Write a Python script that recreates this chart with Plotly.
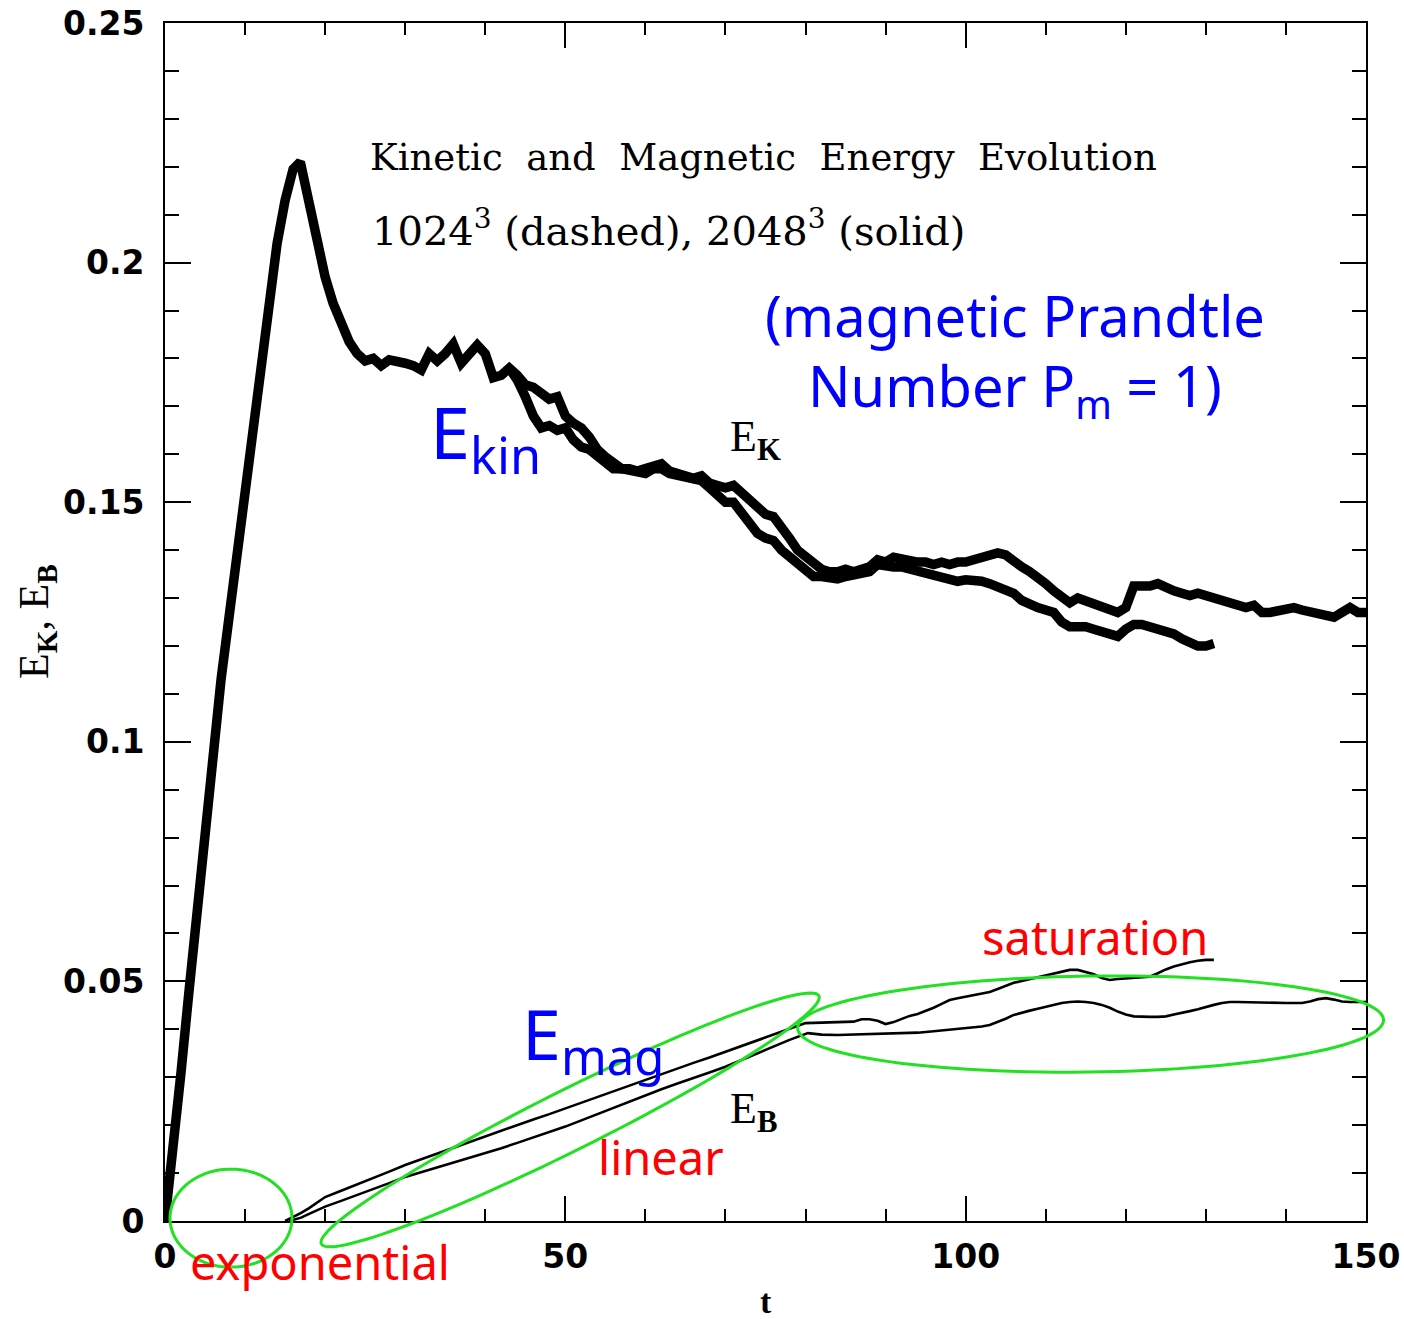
import numpy as np
import plotly.graph_objects as go

# ---------------- data ----------------
# Kinetic energy, run that extends to t=150
kin_long_t = [0, 1, 2, 3, 4, 5, 6, 7, 8, 9, 10, 11, 12, 13, 14, 15, 16, 16.9, 18, 19, 20, 21, 22, 23, 24,
              25, 26, 27, 28, 29, 30, 31, 32, 33, 34, 35, 36, 37, 38, 39, 40, 41, 42, 43,
              44, 45, 46, 47, 48, 49, 50, 51, 52, 53, 54, 55, 56, 57, 58, 59, 60, 61, 62, 63, 64, 65,
              66, 67, 68, 69, 70, 71, 72, 73, 74, 75, 76, 77, 78, 79, 80, 81, 82, 83, 84, 85, 86, 87,
              88, 89, 90, 91, 92, 93, 94, 95, 96, 97, 98, 99, 100, 101, 102, 103, 104, 105, 106, 107,
              108, 109, 110, 111, 112, 113, 114, 115, 116, 117, 118, 119, 120, 120.5, 121, 122, 123,
              124, 125, 126, 127, 128, 129, 130, 131, 132, 133, 134, 135, 136, 137, 138, 139, 140,
              141, 142, 143, 144, 145, 146, 147, 148, 149, 150]
kin_long_E = [0, .014, .031, .048, .065, .082, .099, .113, .126, .139, .152, .166, .180, .193, .204, .213, .2195, .221,
              .2125, .203, .197, .1915, .187, .1835, .181,
              .1795, .180, .1785, .1797, .1795, .179, .1785, .1776, .181, .1795, .181, .183, .179, .181, .1828,
              .181, .176, .1765, .178,
              .1765, .1745, .174, .1728, .1715, .172, .168, .1665, .1655, .1636, .161, .1595, .158, .157,
              .157, .1565, .157, .1575, .158, .1565, .156, .1555,
              .155, .1555, .154, .1535, .153, .1535, .152, .150, .1485, .1475, .147, .145, .1425, .140,
              .1385, .137, .136, .1355, .1355, .136, .1355, .136,
              .1365, .138, .1375, .1385, .138, .1375, .1375, .1375, .137, .1375, .137, .1375, .1375, .138,
              .1385, .139, .1394, .139, .1375, .1365,
              .1355, .1345, .133, .1315, .130, .129, .130, .1295, .1285, .128, .1275, .127, .128, .1305,
              .1325, .1325, .1325,
              .133, .132, .1315, .131, .1305, .131, .1305, .130, .1295, .129, .1285, .128, .1285, .127,
              .127, .1275, .128,
              .128, .1275, .127, .1265, .126, .126, .127, .128, .127, .127]

# Kinetic energy, run that stops near t=131
kin_short_t = [43, 44, 45, 46, 47, 48, 49, 50, 51, 52, 53, 54, 55, 56, 57, 58, 59, 60, 61, 62, 63, 64, 65,
               66, 67, 68, 69, 70, 71, 72, 73, 74, 75, 76, 77, 78, 79, 80, 81, 82, 83, 84, 85, 86, 87,
               88, 89, 90, 91, 92, 93, 94, 95, 96, 97, 98, 99, 100, 101, 102, 103, 104, 105, 106, 107,
               108, 109, 110, 111, 112, 113, 114, 115, 116, 117, 118, 119, 120, 121, 122, 123,
               124, 125, 126, 127, 128, 129, 130, 131]
kin_short_E = [.178, .1755, .172, .168, .1655, .166, .165, .1655, .163, .1615, .161, .1595, .158, .157,
               .157, .1565, .156, .156, .157, .157, .156, .1555, .155,
               .155, .1545, .153, .1515, .150, .150, .148, .1455, .1435, .1425, .142, .140, .1385, .137,
               .1355, .1345, .1345, .134, .134, .1345, .135, .135,
               .1355, .137, .1365, .1365, .1365, .136, .136, .1355, .135, .1345, .134, .1335, .1338,
               .1338, .1335, .133, .1325, .132, .131, .1295,
               .1285, .128, .1275, .127, .125, .124, .124, .124, .1235, .123, .1225, .122, .1235, .1245,
               .1245, .124,
               .124, .1235, .1225, .1215, .1205, .120, .120, .1205]

# Magnetic energy, run that stops near t=131 (upper in the linear phase)
mag_short_t = [15, 16, 17, 18, 19, 20, 22, 24, 26, 28, 30, 32, 34, 36, 38, 40, 42, 44, 46, 48, 50, 52, 54,
               56, 58, 60, 62, 64, 66, 68, 70, 72, 74, 76, 78, 79, 80, 82, 84, 86, 87, 88, 89, 90, 91,
               92, 93, 94, 95, 96, 97, 98, 99, 100, 101, 102, 103, 104, 105, 106, 107, 108, 109, 110,
               111, 112, 113, 114, 115, 116, 117, 118, 119, 120, 121, 122, 123, 124, 125, 126, 127,
               128, 129, 130, 131]
mag_short_E = [0, .0008, .0017, .0027, .0038, .0050, .0063, .0076, .0090, .0103, .0117, .0129, .0141,
               .0153, .0165, .0176, .0188, .0200, .0212, .0223, .0235, .0247, .0259,
               .0271, .0283, .0294, .0306, .0318, .0330, .0341, .0353, .0365, .0377, .0389, .0401, .0407,
               .0413, .0414, .0415, .0416, .0421, .0421, .0418, .0411, .0415,
               .0422, .0428, .0432, .0438, .0445, .0453, .0461, .0465, .0468, .0471, .0475, .0478, .0484,
               .049, .0497, .0501, .0505, .0509, .0512,
               .0516, .052, .0524, .0524, .052, .0515, .0507, .0503, .0505, .0506, .0507, .0508, .051,
               .0517, .0525, .0531, .0536,
               .054, .0543, .0545, .0545]

# Magnetic energy, run that extends to t=150
mag_long_t = [15.5, 17, 18, 19, 20, 22, 24, 26, 28, 30, 32, 34, 36, 38, 40, 42, 44, 46, 48, 50, 52, 54,
              56, 58, 60, 62, 64, 66, 68, 70, 72, 74, 76, 78, 80.3, 82, 84, 86, 88, 90, 92, 94, 96, 98,
              100, 102, 103, 104, 105, 106, 107, 108, 109, 110, 111, 112, 113, 114, 115, 116, 117, 118,
              119, 120, 121, 122, 123, 124, 125, 126, 127, 128, 129, 130, 131, 132, 133, 134, 136, 138,
              140, 142, 143, 144, 145, 146, 147, 148, 150]
mag_long_E = [0, .0007, .0015, .0023, .0030, .0042, .0054, .0066, .0079, .0092, .0102, .0112, .0122,
              .0131, .0141, .0152, .0163, .0174, .0186, .0197, .0210, .0223,
              .0236, .0250, .0263, .0275, .0287, .0298, .0310, .0322, .0336, .0350, .0364, .0378, .0392,
              .0389, .0388, .0389, .0391, .0391, .0392, .0393, .0396, .0399,
              .0402, .0406, .0409, .0415, .0422, .043, .0435, .0439, .0443, .0447, .0451, .0455, .0457,
              .0458, .0457, .0455, .0451, .0445,
              .0437, .0431, .0427, .0426, .0426, .0426, .0427, .0431, .0434, .0438, .0442, .0447, .0451,
              .0455, .0457, .0457, .0456, .0455,
              .0455, .0455, .0458, .0463, .0465, .0462, .0458, .0457, .0457]

x_range = [0, 150]
y_range = [0, 0.25]

# ---------------- layout constants ----------------
W, H = 1404, 1319
ML, MR, MT, MB = 165, 38, 23, 98
PW, PH = W - ML - MR, H - MT - MB

fig = go.Figure()
for tt, ee, w in [(kin_long_t, kin_long_E, 9.5), (kin_short_t, kin_short_E, 9.5),
                  (mag_short_t, mag_short_E, 2.6), (mag_long_t, mag_long_E, 2.6)]:
    fig.add_trace(go.Scatter(x=tt, y=ee, mode="lines", line=dict(color="black", width=w),
                             showlegend=False, hoverinfo="skip"))

axis_common = dict(showgrid=False, zeroline=False, showline=True, linecolor="black", linewidth=2,
                   mirror="allticks", ticks="inside", tickcolor="black", tickwidth=2, automargin=False)
fig.update_xaxes(range=x_range, dtick=50, tick0=0, ticklen=25,
                 minor=dict(dtick=10, ticklen=12, ticks="inside", tickcolor="black", tickwidth=2),
                 tickfont=dict(family="DejaVu Sans", size=33, color="black", weight="bold"),
                 ticklabelstandoff=5, **axis_common)
fig.update_yaxes(range=y_range, dtick=0.05, tick0=0, ticklen=26,
                 minor=dict(dtick=0.01, ticklen=14, ticks="inside", tickcolor="black", tickwidth=2),
                 tickfont=dict(family="DejaVu Sans", size=33, color="black", weight="bold"),
                 ticklabelstandoff=12, **axis_common)


def to_paper(t, e):
    return ((t - x_range[0]) / (x_range[1] - x_range[0]),
            (e - y_range[0]) / (y_range[1] - y_range[0]))


def ellipse_path(cx, cy, a, b, ang_deg, n=120):
    # cx, cy: centre in data units; a, b: semi-axes in pixels; angle counter-clockwise
    th = np.linspace(0, 2 * np.pi, n)
    ang = np.radians(ang_deg)
    dx = a * np.cos(th) * np.cos(ang) - b * np.sin(th) * np.sin(ang)
    dy = a * np.cos(th) * np.sin(ang) + b * np.sin(th) * np.cos(ang)
    px0, py0 = to_paper(cx, cy)
    xs = px0 + dx / PW
    ys = py0 + dy / PH
    pts = " L ".join(f"{x:.5f},{y:.5f}" for x, y in zip(xs, ys))
    return "M " + pts + " Z"


green = "#22e022"
for (cx, cy, a, b, ang) in [(8.24, 0.0006, 61, 49, 0),
                            (50.6, 0.0211, 278, 30, 26.5),
                            (115.6, 0.0411, 293, 48, 0.8)]:
    fig.add_shape(type="path", xref="paper", yref="paper", path=ellipse_path(cx, cy, a, b, ang),
                  line=dict(color=green, width=3))

serif = "DejaVu Serif"
hand = "Noto Sans"
ann = []
ann.append(dict(x=25.35, y=0.222, text="Kinetic  and  Magnetic  Energy  Evolution", xanchor="left",
                yanchor="middle", font=dict(family=serif, size=37, color="black")))
ann.append(dict(x=25.6, y=0.2072, text="1024<sup>3</sup> (dashed), 2048<sup>3</sup> (solid)", xanchor="left",
                yanchor="middle", font=dict(family=serif, size=40, color="black")))
ann.append(dict(x=70.3, y=0.1630, text="E<sub><b>K</b></sub>", xanchor="left", yanchor="middle",
                font=dict(family="Liberation Serif", size=44, color="black")))
ann.append(dict(x=70.3, y=0.0228, text="E<sub><b>B</b></sub>", xanchor="left", yanchor="middle",
                font=dict(family="Liberation Serif", size=44, color="black")))
ann.append(dict(x=32.85, y=0.1640, text="E<sub>kin</sub>", xanchor="left", yanchor="middle",
                font=dict(family=hand, size=72, color="#0000ff")))
ann.append(dict(x=44.3, y=0.0385, text="E<sub>mag</sub>", xanchor="left", yanchor="middle",
                font=dict(family=hand, size=70, color="#0000ff")))
ann.append(dict(x=106.2, y=0.1890, text="(magnetic Prandtle", xanchor="center", yanchor="middle",
                font=dict(family=hand, size=56, color="#0000ff")))
ann.append(dict(x=106.2, y=0.1738, text="Number P<sub>m</sub> = 1)", xanchor="center", yanchor="middle",
                font=dict(family=hand, size=56, color="#0000ff")))
ann.append(dict(x=116.1, y=0.0592, text="saturation", xanchor="center", yanchor="middle",
                font=dict(family=hand, size=47, color="#ff0000")))
ann.append(dict(x=61.9, y=0.0134, text="linear", xanchor="center", yanchor="middle",
                font=dict(family=hand, size=47, color="#ff0000")))
for a in ann:
    a.update(xref="x", yref="y", showarrow=False)
# label below the axis (outside the data range, so placed in paper units)
ex, ey = to_paper(19.4, -0.0086)
ann.append(dict(xref="paper", yref="paper", x=ex, y=ey, text="exponential", showarrow=False,
                xanchor="center", yanchor="middle", font=dict(family=hand, size=47, color="#ff0000")))
# axis titles
ann.append(dict(xref="paper", yref="paper", x=(37 - ML) / PW, y=0.5, textangle=-90,
                text="E<sub><b>K</b></sub>, E<sub><b>B</b></sub>", showarrow=False,
                xanchor="center", yanchor="middle",
                font=dict(family="Liberation Serif", size=42, color="black")))
ann.append(dict(xref="paper", yref="paper", x=0.5, y=-(1301 - MT - PH) / PH, text="t", showarrow=False,
                xanchor="center", yanchor="middle",
                font=dict(family="Liberation Serif", size=34, color="black", weight="bold")))

fig.update_layout(width=W, height=H, margin=dict(l=ML, r=MR, t=MT, b=MB, pad=0),
                  paper_bgcolor="white", plot_bgcolor="white", annotations=ann, showlegend=False)
fig.write_html("out.html")
